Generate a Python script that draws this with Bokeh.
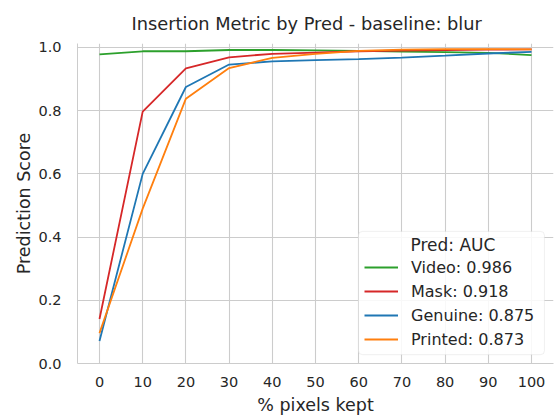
from bokeh.plotting import figure
from bokeh.models import (Range1d, FixedTicker, Legend, LegendItem, BoxAnnotation,
                          Label, Title)
from bokeh.embed import file_html
from bokeh.resources import INLINE

pixels_kept = [0, 10, 20, 30, 40, 50, 60, 70, 80, 90, 100]
video = [0.978, 0.988, 0.988, 0.992, 0.992, 0.991, 0.989, 0.987, 0.985, 0.983, 0.976]
mask = [0.141, 0.797, 0.934, 0.969, 0.980, 0.984, 0.988, 0.990, 0.992, 0.993, 0.994]
genuine = [0.071, 0.600, 0.875, 0.946, 0.956, 0.960, 0.963, 0.968, 0.974, 0.981, 0.986]
printed = [0.096, 0.490, 0.838, 0.935, 0.967, 0.980, 0.989, 0.993, 0.995, 0.995, 0.994]

series_names = ["Video", "Mask", "Genuine", "Printed"]
series_auc = ["0.986", "0.918", "0.875", "0.873"]
series_values = [video, mask, genuine, printed]
series_colors = ["#2ca02c", "#d62728", "#1f77b4", "#ff7f0e"]
y_ticks = [0.0, 0.2, 0.4, 0.6, 0.8, 1.0]

FONT = "DejaVu Sans"
TXT = "#262626"
GRID = "#cccccc"

p = figure(width=557, height=417, output_backend="svg", toolbar_location=None,
           x_range=Range1d(-5.09, 105.09), y_range=Range1d(0, 1.0126),
           min_border_left=77, min_border_right=4, min_border_top=43,
           min_border_bottom=52)
p.outline_line_color = None
p.background_fill_color = "white"
p.border_fill_color = "white"

p.title = Title(text="Insertion Metric by Pred - baseline: blur", align="left",
                offset=54, text_font=FONT, text_font_size="17.8px",
                text_font_style="normal", text_color=TXT, standoff=19)

for ax in (p.xaxis[0], p.yaxis[0]):
    ax.axis_line_color = GRID
    ax.major_tick_line_color = None
    ax.minor_tick_line_color = None
    ax.major_label_text_font = FONT
    ax.major_label_text_font_size = "14.5px"
    ax.major_label_text_color = TXT
    ax.axis_label_text_font = FONT
    ax.axis_label_text_font_size = "17.5px"
    ax.axis_label_text_font_style = "normal"
    ax.axis_label_text_color = TXT

p.xaxis.axis_label = "% pixels kept"
p.xaxis.ticker = FixedTicker(ticks=pixels_kept)
p.xaxis.major_label_standoff = 7
p.xaxis.axis_label_standoff = 5

p.yaxis.axis_label = "Prediction Score"
p.yaxis.ticker = FixedTicker(ticks=y_ticks)
p.yaxis.major_label_overrides = {t: f"{t:.1f}" for t in y_ticks}
p.yaxis.major_label_standoff = 10
p.yaxis.axis_label_standoff = 1

p.xgrid.grid_line_color = GRID
p.ygrid.grid_line_color = GRID
p.xgrid.grid_line_width = 1.1
p.ygrid.grid_line_width = 1.1

items = []
for name, auc, vals, col in zip(series_names, series_auc, series_values, series_colors):
    r = p.line(pixels_kept, vals, line_color=col, line_width=1.8)
    items.append(LegendItem(label=f"{name}: {auc}", renderers=[r]))

# legend frame
box = BoxAnnotation(left=59.95, right=103.0, bottom=0.028, top=0.418,
                    fill_color="white", fill_alpha=0.85, line_color=GRID,
                    line_width=1, border_radius=4)
p.add_layout(box)

legend = Legend(items=items, location=(287, 14), padding=0, margin=0, spacing=4,
                glyph_width=34, glyph_height=20, label_height=20, label_standoff=13,
                label_text_font=FONT, label_text_font_size="16px",
                label_text_color=TXT, border_line_color=None,
                background_fill_alpha=0)
p.add_layout(legend, "center")

p.add_layout(Label(x=81.8, y=0.374, text="Pred: AUC", text_align="center",
                   text_baseline="middle", text_font=FONT, text_font_size="17px",
                   text_color=TXT))

open("out.html", "w").write(file_html(p, INLINE))
